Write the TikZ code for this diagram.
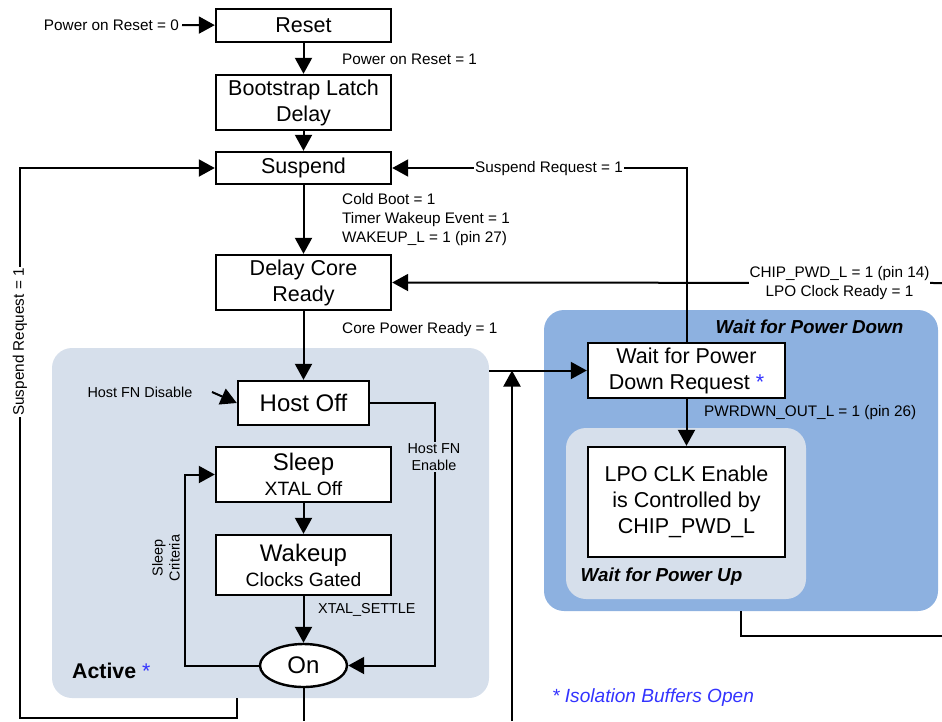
\documentclass[tikz,border=0pt]{standalone}
\usepackage{fontspec}
\setmainfont{Liberation Sans}
\usetikzlibrary{arrows.meta,shapes.geometric}
\definecolor{actfill}{RGB}{214,223,235}
\definecolor{downfill}{RGB}{141,177,224}
\definecolor{starblue}{RGB}{51,51,255}

\begin{document}
\begin{tikzpicture}[x=1pt,y=-1pt,
  state/.style={draw,line width=2.4pt,fill=white,align=center,inner sep=0pt,font=\fontsize{21.5}{26}\selectfont},
  region/.style={rounded corners=20pt,inner sep=0pt},
  lbl/.style={inner sep=1pt,font=\fontsize{15.3}{19}\selectfont},
  lblsm/.style={inner sep=1pt,font=\fontsize{14.4}{17}\selectfont},
  title/.style={inner sep=0pt,font=\fontsize{18.8}{22}\selectfont\bfseries\itshape},
  arr/.style={line width=2pt,-{Triangle[length=16pt,width=17pt]}},
  wire/.style={line width=2pt}]
\useasboundingbox (0,0) rectangle (942,721);

\node[region,fill=actfill,minimum width=437pt,minimum height=350pt] (active) at (270.5,523) {};
\node[region,fill=downfill,minimum width=394pt,minimum height=301pt] (pdown) at (741,460.5) {};
\node[region,fill=actfill,minimum width=240pt,minimum height=171pt] (pup) at (686,513.5) {};

\node[state,minimum width=175pt,minimum height=33pt] (reset) at (303.5,25.5) {Reset};
\node[state,minimum width=175pt,minimum height=55pt] (boot) at (303.5,102.5) {Bootstrap Latch\\Delay};
\node[state,minimum width=175pt,minimum height=32pt] (suspend) at (303.5,168) {Suspend};
\node[state,minimum width=175pt,minimum height=55pt] (delaycore) at (303.5,282.5) {Delay Core\\Ready};
\node[state,minimum width=131pt,minimum height=44pt,font=\fontsize{24}{28}\selectfont] (hostoff) at (303.5,403) {Host Off};
\node[state,minimum width=175pt,minimum height=55pt,font=\fontsize{24}{25}\selectfont] (sleep) at (303.5,474.5) {Sleep\\{\fontsize{19.3}{25}\selectfont XTAL Off}};
\node[state,minimum width=175pt,minimum height=60pt,font=\fontsize{24}{25}\selectfont] (wakeup) at (303.5,565) {Wakeup\\{\fontsize{19.3}{25}\selectfont Clocks Gated}};
\node[state,ellipse,minimum width=87pt,minimum height=43pt,font=\fontsize{24}{28}\selectfont] (on) at (303.5,665.5) {On};
\node[state,minimum width=197pt,minimum height=55pt] (waitreq) at (686.5,370.5) {Wait for Power\\Down Request {\color{starblue}*}};
\node[state,minimum width=197pt,minimum height=110pt] (lpo) at (686.5,502) {LPO CLK Enable\\is Controlled by\\CHIP\_PWD\_L};

\node[lbl,anchor=east] (por0) at (180,25) {Power on Reset = 0};
\node[lblsm] (hfd) at (140,392) {Host FN Disable};
\coordinate (hfdin) at (212,392);
\coordinate (chipin) at (942,283);
\coordinate (botin) at (512,721);
\coordinate (onout) at (303.5,721);
\coordinate (pdout) at (942,636);

\draw[arr] ([xshift=2pt]por0.east) -- (reset);
\draw[arr] (reset) -- (boot);
\draw[arr] (boot) -- (suspend);
\draw[arr] (suspend) -- (delaycore);
\draw[arr] (delaycore) -- (hostoff);
\draw[arr] (hfdin) -- (hostoff.west);
\draw[arr] (hostoff.east) -- ++(65,0) |- (on.east);
\draw[arr] (on.west) -- ++(-74,0) |- (sleep.west);
\draw[arr] (sleep) -- (wakeup);
\draw[arr] (wakeup) -- (on);
\draw[wire] (on.south) -- (onout);
\draw[arr] (active.south -| hostoff.west) |- (20,718) |- (suspend.west);
\draw[arr] (waitreq.north) |- (suspend.east);
\draw[arr] (chipin) -- (delaycore.east);
\draw[arr] (active.east |- waitreq.west) -- (waitreq.west);
\draw[arr] (botin) -- (botin |- waitreq.west);
\draw[arr] (waitreq) -- (lpo);
\draw[wire] (pdown.south) |- (pdout);

\node[lbl,anchor=west] (por1) at (341,59) {Power on Reset = 1};
\node[lbl,anchor=west,align=left] (wake) at (341,220) {Cold Boot = 1\\Timer Wakeup Event = 1\\WAKEUP\_L = 1 (pin 27)};
\node[lbl,anchor=west] (cpr) at (341,330) {Core Power Ready = 1};
\node[lblsm,fill=actfill,align=center] (hfe) at (434,457) {Host FN\\Enable};
\node[lblsm,rotate=90,align=center] (crit) at (166,558) {Sleep\\Criteria};
\node[lblsm,anchor=west] (xtal) at (317,610) {XTAL\_SETTLE};
\node[lbl,fill=white,rotate=90] (sreql) at (20,342) {Suspend Request = 1};
\node[lbl,fill=white] (sreqr) at (549,169) {Suspend Request = 1};
\node[lbl,fill=white,align=center] (chip) at (839.5,283) {CHIP\_PWD\_L = 1 (pin 14)\\LPO Clock Ready = 1};
\node[lbl,anchor=west] (pwrdwn) at (703,413) {PWRDWN\_OUT\_L = 1 (pin 26)};

\node[title] (tdown) at (809.5,327) {Wait for Power Down};
\node[title] (tup) at (661.5,577) {Wait for Power Up};
\node[inner sep=0pt,anchor=west,font=\fontsize{21.3}{25}\selectfont\bfseries] (tact) at (72,671) {Active {\mdseries\color{starblue}*}};
\node[inner sep=0pt,anchor=west,text=starblue,font=\fontsize{19.1}{23}\selectfont\itshape] (note) at (552,698) {* Isolation Buffers Open};
\end{tikzpicture}
\end{document}
